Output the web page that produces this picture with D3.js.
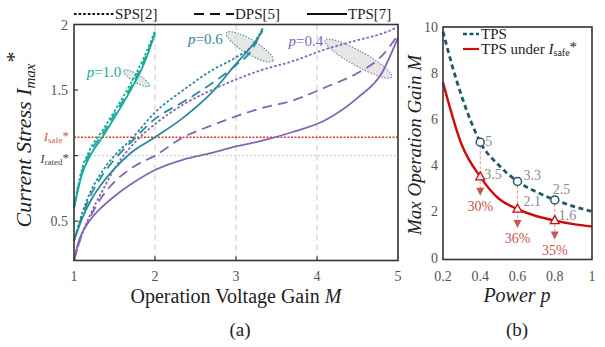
<!DOCTYPE html>
<html>
<head>
<meta charset="utf-8">
<script src="https://cdn.jsdelivr.net/npm/d3@7"></script>
<style>
  body { margin: 0; background: #fff; }
  svg { font-family: "Liberation Serif", "Times New Roman", serif; }
</style>
</head>
<body>
<svg id="chart" width="605" height="347" font-family="Liberation Serif, Times New Roman, serif"></svg>
<script>
// --- Panel (a): current stress vs voltage gain M ---
const gainP10 = [1, 1.05, 1.1, 1.2, 1.35, 1.5, 1.7, 1.85, 2];
const spsP10 = [0.6, 0.77, 0.9, 1.05, 1.19, 1.34, 1.55, 1.73, 1.95];
const dpsP10 = [0.6, 0.755, 0.88, 1.025, 1.165, 1.315, 1.52, 1.7, 1.94];
const tpsP10 = [0.6, 0.74, 0.86, 1.0, 1.14, 1.29, 1.5, 1.68, 1.93];

const gainP06 = [1, 1.1, 1.2, 1.35, 1.5, 1.7, 2, 2.35, 2.7, 3, 3.2, 3.33];
const spsP06 = [0.35, 0.56, 0.72, 0.88, 1.0, 1.12, 1.33, 1.5, 1.65, 1.75, 1.84, 1.97];
const dpsP06 = [0.35, 0.54, 0.69, 0.85, 0.97, 1.1, 1.28, 1.41, 1.55, 1.69, 1.81, 1.97];
const tpsP06 = [0.35, 0.52, 0.65, 0.79, 0.9, 1.02, 1.14, 1.29, 1.48, 1.7, 1.84, 1.95];

const gainP04 = [1, 1.05, 1.1, 1.2, 1.35, 1.5, 1.75, 2, 2.35, 2.7, 3, 3.3, 3.7, 4.1, 4.5, 4.8, 5];
const spsP04 = [0.2, 0.31, 0.4, 0.55, 0.73, 0.9, 1.1, 1.24, 1.39, 1.5, 1.58, 1.65, 1.72, 1.81, 1.88, 1.93, 1.98];
const dpsP04 = [0.2, 0.31, 0.4, 0.53, 0.69, 0.8, 0.92, 1.0, 1.14, 1.23, 1.3, 1.36, 1.42, 1.52, 1.63, 1.76, 1.92];
const tpsP04 = [0.2, 0.33, 0.41, 0.51, 0.61, 0.69, 0.8, 0.89, 0.97, 1.02, 1.07, 1.11, 1.18, 1.27, 1.44, 1.63, 1.9];

const gainTicks = [1, 2, 3, 4, 5];
const stressTicks = [0.5, 1.5, 2];
const iRated = 1.0;
const iSafe = 1.14;

// ellipse callouts: [M, stress] centre of each p group
const groupLabels = ['p=1.0', 'p=0.6', 'p=0.4'];
const groupCentres = [[1.77, 1.59], [3.17, 1.83], [4.51, 1.74]];

// --- Panel (b): max operation gain vs power p ---
const power = [0.2, 0.25, 0.3, 0.35, 0.4, 0.5, 0.6, 0.7, 0.8, 0.9, 1.0];
const tpsMax = [9.8, 8.3, 7.0, 5.9, 5.0, 4.0, 3.3, 2.85, 2.5, 2.22, 2.0];
const powerSafe = [0.2, 0.3, 0.4, 0.5, 0.6, 0.7, 0.8, 0.9, 1.0];
const tpsSafeMax = [7.6, 4.9, 3.5, 2.55, 2.1, 1.8, 1.6, 1.45, 1.35];

const markPower = [0.4, 0.6, 0.8];
const markTps = [5, 3.3, 2.5];
const markSafe = [3.5, 2.1, 1.6];
const dropPct = ['30%', '36%', '35%'];

const powerTicks = [0.2, 0.4, 0.6, 0.8, 1];
const gainMaxTicks = [0, 2, 4, 6, 8, 10];

const svg = d3.select('#chart');

const cGreen = '#1aa99a', cTeal = '#2a8a9c', cPurple = '#8466b3';
const cRed = '#cc0d0d', cDark = '#1f5a6a', cSoft = '#c8564f';
const dashSPS = '2.6,2', dashDPS = '10,6';

// ======== panel (a) ========
const xA = d3.scaleLinear().domain([1, 5]).range([74, 398]);
const yA = d3.scaleLinear().domain([0.2, 2]).range([260.5, 24.5]);

const gA = svg.append('g');

// grid lines
gA.selectAll('.vgrid').data([2, 3, 4]).enter().append('line')
  .attr('x1', d => xA(d)).attr('x2', d => xA(d))
  .attr('y1', yA(2)).attr('y2', yA(0.2))
  .attr('stroke', '#c8c8c8').attr('stroke-width', 1).attr('stroke-dasharray', '6,4');

gA.append('line')
  .attr('x1', xA(1)).attr('x2', xA(5)).attr('y1', yA(iRated)).attr('y2', yA(iRated))
  .attr('stroke', '#c8c8c8').attr('stroke-width', 1).attr('stroke-dasharray', '2,2');
gA.append('line')
  .attr('x1', xA(1)).attr('x2', xA(5)).attr('y1', yA(iSafe)).attr('y2', yA(iSafe))
  .attr('stroke', '#e8332a').attr('stroke-width', 1.3).attr('stroke-dasharray', '2,1.5');

// ellipse callouts (drawn under the curves)
const ellSpec = [
  { rx: 15, ry: 4, ang: 31, col: cGreen, lx: -15, ly: -1 },
  { rx: 27, ry: 7, ang: 31, col: cTeal, lx: -27, ly: -3 },
  { rx: 38, ry: 7.5, ang: 29, col: cPurple, lx: -35, ly: -13 }
];
groupCentres.forEach((c, i) => {
  const s = ellSpec[i];
  gA.append('ellipse')
    .attr('transform', `translate(${xA(c[0])},${yA(c[1])}) rotate(${s.ang})`)
    .attr('rx', s.rx).attr('ry', s.ry)
    .attr('fill', '#d9d9d9').attr('fill-opacity', 0.65)
    .attr('stroke', s.col).attr('stroke-width', 1).attr('stroke-dasharray', '1.5,1.5');
});

const lineA = d3.line().x(d => xA(d[0])).y(d => yA(d[1])).curve(d3.curveMonotoneX);
const curves = [
  { m: gainP04, v: tpsP04, col: cPurple, dash: null },
  { m: gainP04, v: dpsP04, col: cPurple, dash: dashDPS },
  { m: gainP04, v: spsP04, col: cPurple, dash: dashSPS },
  { m: gainP06, v: tpsP06, col: cTeal, dash: null },
  { m: gainP06, v: dpsP06, col: cTeal, dash: dashDPS },
  { m: gainP06, v: spsP06, col: cTeal, dash: dashSPS },
  { m: gainP10, v: tpsP10, col: cGreen, dash: null },
  { m: gainP10, v: dpsP10, col: cGreen, dash: dashDPS },
  { m: gainP10, v: spsP10, col: cGreen, dash: dashSPS }
];
curves.forEach(c => {
  gA.append('path')
    .datum(c.m.map((m, i) => [m, c.v[i]]))
    .attr('d', lineA)
    .attr('fill', 'none').attr('stroke', c.col).attr('stroke-width', 1.8)
    .attr('stroke-dasharray', c.dash);
});

// group labels
groupCentres.forEach((c, i) => {
  const s = ellSpec[i];
  const t = gA.append('text')
    .attr('x', xA(c[0]) + s.lx).attr('y', yA(c[1]) + s.ly)
    .attr('text-anchor', 'end').attr('fill', s.col).attr('font-size', 15);
  t.append('tspan').attr('font-style', 'italic').text('p');
  t.append('tspan').text(groupLabels[i].slice(1));
});

// frame
gA.append('rect').attr('x', xA(1)).attr('y', yA(2))
  .attr('width', xA(5) - xA(1)).attr('height', yA(0.2) - yA(2))
  .attr('fill', 'none').attr('stroke', '#333').attr('stroke-width', 1.6);

// ticks
gA.selectAll('.xt').data([2, 3, 4]).enter().append('line')
  .attr('x1', d => xA(d)).attr('x2', d => xA(d))
  .attr('y1', yA(0.2)).attr('y2', yA(0.2) - 4).attr('stroke', '#333').attr('stroke-width', 1.2);
gA.selectAll('.yt').data([0.5, 1, 1.5]).enter().append('line')
  .attr('x1', xA(1)).attr('x2', xA(1) + 4)
  .attr('y1', d => yA(d)).attr('y2', d => yA(d)).attr('stroke', '#333').attr('stroke-width', 1.2);

gA.selectAll('.xl').data(gainTicks).enter().append('text')
  .attr('x', d => xA(d)).attr('y', 281).attr('text-anchor', 'middle')
  .attr('font-size', 14).attr('fill', '#555').text(d => d);
gA.selectAll('.yl').data(stressTicks).enter().append('text')
  .attr('x', 68).attr('y', d => yA(d) + 5).attr('text-anchor', 'end')
  .attr('font-size', 14).attr('fill', '#555').text(d => d);

const safeLbl = gA.append('text').attr('x', 69).attr('y', yA(iSafe) + 4)
  .attr('text-anchor', 'end').attr('font-size', 13).attr('fill', '#d9534a');
safeLbl.append('tspan').attr('font-style', 'italic').text('I');
safeLbl.append('tspan').attr('font-size', 9).attr('dy', 2).text('safe');
safeLbl.append('tspan').attr('dy', -3).text('*');

const ratedLbl = gA.append('text').attr('x', 69).attr('y', yA(iRated) + 7)
  .attr('text-anchor', 'end').attr('font-size', 13).attr('fill', '#444');
ratedLbl.append('tspan').attr('font-style', 'italic').text('I');
ratedLbl.append('tspan').attr('font-size', 9).attr('dy', 2).text('rated');
ratedLbl.append('tspan').attr('dy', -3).text('*');

// axis titles
const xTitleA = gA.append('text').attr('x', 236).attr('y', 303)
  .attr('text-anchor', 'middle').attr('font-size', 20).attr('fill', '#222');
xTitleA.append('tspan').text('Operation Voltage Gain ');
xTitleA.append('tspan').attr('font-style', 'italic').text('M');

const yTitleA = gA.append('text')
  .attr('transform', 'translate(31,140) rotate(-90)')
  .attr('text-anchor', 'middle').attr('font-size', 22).attr('fill', '#222')
  .attr('font-style', 'italic');
yTitleA.append('tspan').text('Current Stress I');
yTitleA.append('tspan').attr('font-size', 15).attr('dy', 4).text('max');
yTitleA.append('tspan').attr('dy', -14).text('*');

gA.append('text').attr('x', 240).attr('y', 336).attr('text-anchor', 'middle')
  .attr('font-size', 19).attr('fill', '#222').text('(a)');

// legend (a)
const legA = [
  { x: 74, name: 'SPS[2]', dash: dashSPS },
  { x: 194, name: 'DPS[5]', dash: dashDPS },
  { x: 307, name: 'TPS[7]', dash: null }
];
legA.forEach(l => {
  gA.append('line').attr('x1', l.x).attr('x2', l.x + 40).attr('y1', 14).attr('y2', 14)
    .attr('stroke', '#111').attr('stroke-width', 2).attr('stroke-dasharray', l.dash);
  gA.append('text').attr('x', l.x + 41).attr('y', 19).attr('font-size', 15)
    .attr('fill', '#222').text(l.name);
});

// ======== panel (b) ========
const xB = d3.scaleLinear().domain([0.2, 1]).range([443, 592]);
const yB = d3.scaleLinear().domain([0, 10]).range([257.5, 27]);
const gB = svg.append('g');

const lineB = d3.line().x(d => xB(d[0])).y(d => yB(d[1])).curve(d3.curveMonotoneX);

// drop guides
markPower.forEach((p, i) => {
  gB.append('line').attr('x1', xB(p)).attr('x2', xB(p))
    .attr('y1', yB(markTps[i]) + 4).attr('y2', yB(markSafe[i]) + 14)
    .attr('stroke', '#e59a96').attr('stroke-width', 1).attr('stroke-dasharray', '3,2');
});

gB.append('path').datum(power.map((p, i) => [p, tpsMax[i]]))
  .attr('d', lineB).attr('fill', 'none').attr('stroke', cDark)
  .attr('stroke-width', 2.8).attr('stroke-dasharray', '5,3.5');
gB.append('path').datum(powerSafe.map((p, i) => [p, tpsSafeMax[i]]))
  .attr('d', lineB).attr('fill', 'none').attr('stroke', cRed).attr('stroke-width', 2.4);

// markers
markPower.forEach((p, i) => {
  gB.append('circle').attr('cx', xB(p)).attr('cy', yB(markTps[i])).attr('r', 4)
    .attr('fill', '#fff').attr('stroke', cDark).attr('stroke-width', 1.5);
  const tx = xB(p), ty = yB(markSafe[i]);
  gB.append('path').attr('d', `M${tx},${ty - 5}L${tx + 4.5},${ty + 3}L${tx - 4.5},${ty + 3}Z`)
    .attr('fill', '#fff').attr('stroke', cRed).attr('stroke-width', 1.3);
  const ay = ty + 16;
  gB.append('path').attr('d', `M${tx},${ay + 3}L${tx + 4},${ay - 5}L${tx - 4},${ay - 5}Z`)
    .attr('fill', cSoft);
  gB.append('text').attr('x', tx).attr('y', ay + 18).attr('text-anchor', 'middle')
    .attr('font-size', 14).attr('fill', cSoft).text(dropPct[i]);
});

// value labels
const tpsLblOff = [[5, 4], [6, -1], [-2, -6]];
const safeLblOff = [[4, 2], [6, -3], [4, -1]];
markPower.forEach((p, i) => {
  gB.append('text').attr('x', xB(p) + tpsLblOff[i][0]).attr('y', yB(markTps[i]) + tpsLblOff[i][1])
    .attr('font-size', 14).attr('fill', '#8a8a8a').text(markTps[i]);
  gB.append('text').attr('x', xB(p) + safeLblOff[i][0]).attr('y', yB(markSafe[i]) + safeLblOff[i][1])
    .attr('font-size', 14).attr('fill', '#8a8a8a').text(markSafe[i]);
});

// frame + ticks
gB.append('rect').attr('x', xB(0.2)).attr('y', yB(10))
  .attr('width', xB(1) - xB(0.2)).attr('height', yB(0) - yB(10) + 2)
  .attr('fill', 'none').attr('stroke', '#333').attr('stroke-width', 1.6);

gB.selectAll('.xl').data(powerTicks).enter().append('text')
  .attr('x', d => xB(d)).attr('y', 281).attr('text-anchor', 'middle')
  .attr('font-size', 14).attr('fill', '#555').text(d => d);
gB.selectAll('.yl').data(gainMaxTicks).enter().append('text')
  .attr('x', 438).attr('y', d => yB(d) + 5).attr('text-anchor', 'end')
  .attr('font-size', 14).attr('fill', '#555').text(d => d);

gB.append('text').attr('x', 517).attr('y', 302)
  .attr('text-anchor', 'middle').attr('font-size', 20).attr('fill', '#222')
  .attr('font-style', 'italic').text('Power p');

gB.append('text').attr('transform', 'translate(421,145) rotate(-90)')
  .attr('text-anchor', 'middle').attr('font-size', 19).attr('fill', '#222')
  .attr('font-style', 'italic').text('Max Operation Gain M');

gB.append('text').attr('x', 517).attr('y', 336).attr('text-anchor', 'middle')
  .attr('font-size', 19).attr('fill', '#222').text('(b)');

// legend (b)
gB.append('line').attr('x1', 463).attr('x2', 479).attr('y1', 34).attr('y2', 34)
  .attr('stroke', cDark).attr('stroke-width', 2.4).attr('stroke-dasharray', '4,2.5');
gB.append('text').attr('x', 481).attr('y', 39).attr('font-size', 15).attr('fill', '#222').text('TPS');
gB.append('line').attr('x1', 463).attr('x2', 479).attr('y1', 49).attr('y2', 49)
  .attr('stroke', cRed).attr('stroke-width', 2.2);
const legSafe = gB.append('text').attr('x', 481).attr('y', 54).attr('font-size', 15).attr('fill', '#222');
legSafe.append('tspan').text('TPS under ');
legSafe.append('tspan').attr('font-style', 'italic').text('I');
legSafe.append('tspan').attr('font-size', 10).attr('dy', 2).text('safe');
legSafe.append('tspan').attr('dy', -4).text('*');
</script>
</body>
</html>
